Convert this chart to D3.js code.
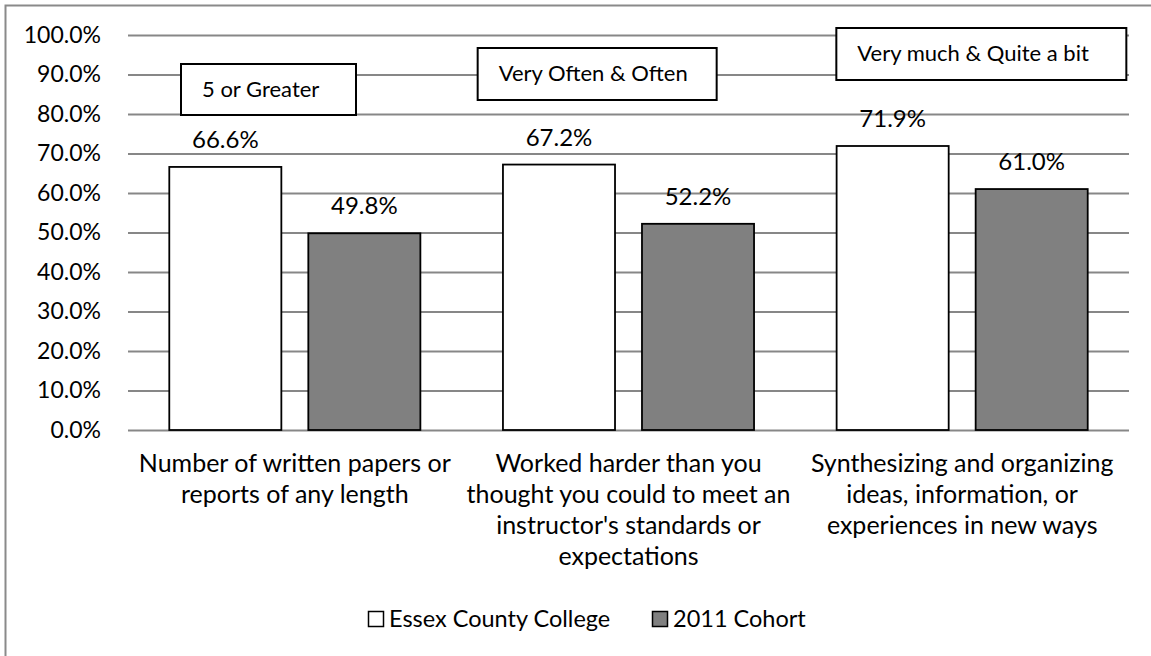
<!DOCTYPE html>
<html>
<head>
<meta charset="utf-8">
<script src="https://cdn.jsdelivr.net/npm/d3@7"></script>
<style>
  html, body { margin: 0; padding: 0; background: #fff; overflow: hidden; }
  svg { display: block; }
  text { font-family: Lato, "Open Sans", sans-serif; fill: #000; }
</style>
</head>
<body>
<svg id="chart" width="1151" height="656"></svg>
<script>
// Survey items (multi-line labels)
const categories = [
  ["Number of written papers or", "reports of any length"],
  ["Worked harder than you", "thought you could to meet an", "instructor's standards or", "expectations"],
  ["Synthesizing and organizing", "ideas, information, or", "experiences in new ways"]
];
const seriesNames = ["Essex County College", "2011 Cohort"];
const essexValues = [66.6, 67.2, 71.9];
const cohortValues = [49.8, 52.2, 61.0];
const yTicks = [0, 10, 20, 30, 40, 50, 60, 70, 80, 90, 100];
const responseNotes = ["5 or Greater", "Very Often & Often", "Very much & Quite a bit"];

const seriesFill = ["#ffffff", "#808080"];
const gridColor = "#878787";

const svg = d3.select("#chart");

// Outer chart frame (top and left edges)
svg.append("path")
  .attr("d", "M5.5,656 V5.5 H1151")
  .attr("fill", "none")
  .attr("stroke", "#8a8a8a")
  .attr("stroke-width", 2);

const plot = { left: 128, right: 1129, top: 35, bottom: 430 };

const y = d3.scaleLinear().domain([0, 100]).range([plot.bottom, plot.top]);
const x0 = d3.scaleBand()
  .domain(d3.range(categories.length))
  .range([plot.left, plot.right])
  .paddingInner(0).paddingOuter(0);
const x1 = d3.scaleBand()
  .domain(d3.range(seriesNames.length))
  .range([0, x0.bandwidth()])
  .paddingInner(0.194).paddingOuter(0.297);

// Gridlines + y axis labels
const yAxis = d3.axisLeft(y)
  .tickValues(yTicks)
  .tickSize(-(plot.right - plot.left))
  .tickPadding(27)
  .tickFormat(d => d.toFixed(1) + "%");

const gAxis = svg.append("g")
  .attr("transform", `translate(${plot.left},0)`)
  .call(yAxis);
gAxis.select(".domain").remove();
gAxis.selectAll(".tick line")
  .attr("stroke", gridColor)
  .attr("stroke-width", 2);
gAxis.selectAll(".tick text")
  .attr("font-size", 23)
  .attr("font-family", "Lato, sans-serif")
  .attr("fill", "#000");

// Response-option note boxes above each group
const noteLayout = [
  { dx: 53, w: 175, top: 64, h: 51, pad: 21 },
  { dx: 16, w: 239, top: 48, h: 52, pad: 21 },
  { dx: 41, w: 290, top: 28, h: 52, pad: 21 }
];
const notes = svg.append("g").selectAll("g")
  .data(responseNotes)
  .join("g")
  .attr("transform", (d, i) => `translate(${x0(i) + noteLayout[i].dx},${noteLayout[i].top})`);
notes.append("rect")
  .attr("width", (d, i) => noteLayout[i].w)
  .attr("height", (d, i) => noteLayout[i].h)
  .attr("fill", "#fff")
  .attr("stroke", "#000")
  .attr("stroke-width", 2);
notes.append("text")
  .attr("x", (d, i) => noteLayout[i].pad)
  .attr("y", 33)
  .attr("font-size", 22)
  .text(d => d);

// Bars
const tableRows = categories.map((c, i) => ({ i, values: [essexValues[i], cohortValues[i]] }));
const groups = svg.append("g").selectAll("g")
  .data(tableRows)
  .join("g")
  .attr("transform", d => `translate(${x0(d.i)},0)`);

groups.selectAll("rect")
  .data(d => d.values.map((v, s) => ({ v, s })))
  .join("rect")
  .attr("x", d => x1(d.s))
  .attr("width", x1.bandwidth())
  .attr("y", d => y(d.v))
  .attr("height", d => y(0) - y(d.v))
  .attr("fill", d => seriesFill[d.s])
  .attr("stroke", "#000")
  .attr("stroke-width", 1.8);

// Value labels
groups.selectAll("text.val")
  .data(d => d.values.map((v, s) => ({ v, s })))
  .join("text")
  .attr("class", "val")
  .attr("x", d => x1(d.s) + x1.bandwidth() / 2)
  .attr("y", d => y(d.v) - 19)
  .attr("text-anchor", "middle")
  .attr("font-size", 24)
  .text(d => d.v.toFixed(1) + "%");

// Category labels
svg.append("g").selectAll("text")
  .data(categories)
  .join("text")
  .attr("text-anchor", "middle")
  .attr("font-size", 25)
  .attr("x", (d, i) => x0(i) + x0.bandwidth() / 2)
  .attr("y", 472)
  .selectAll("tspan")
  .data(d => d)
  .join("tspan")
  .attr("x", function () { return this.parentNode.getAttribute("x"); })
  .attr("dy", (d, j) => j === 0 ? 0 : 31)
  .text(d => d);

// Legend
const legendItems = [{ x: 368 }, { x: 652 }];
const legend = svg.append("g").selectAll("g")
  .data(seriesNames)
  .join("g")
  .attr("transform", (d, i) => `translate(${legendItems[i].x},611)`);
legend.append("rect")
  .attr("x", 0.5).attr("y", 0.5)
  .attr("width", 15).attr("height", 15)
  .attr("fill", (d, i) => seriesFill[i])
  .attr("stroke", "#000")
  .attr("stroke-width", 1.5);
legend.append("text")
  .attr("x", 21)
  .attr("y", 15.5)
  .attr("font-size", 23.5)
  .text(d => d);
</script>
</body>
</html>
